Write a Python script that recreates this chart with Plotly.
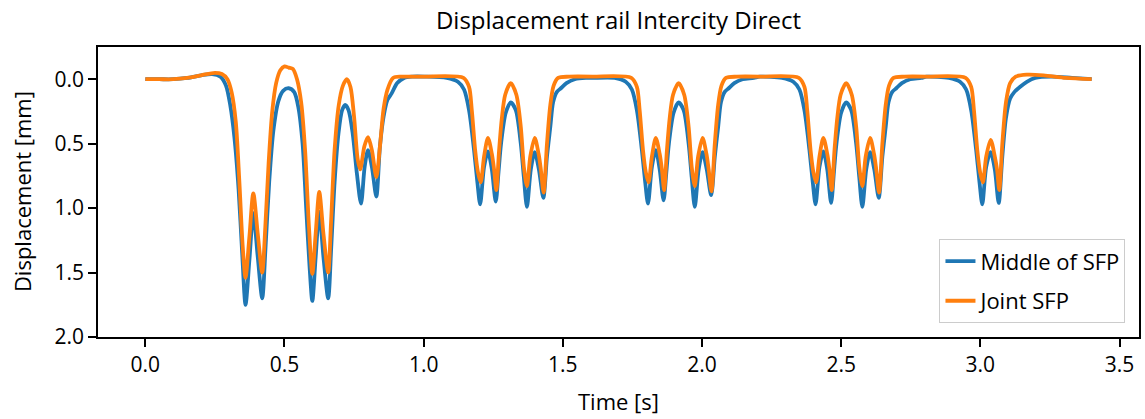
import plotly.graph_objects as go

# Rail displacement under a passing Intercity Direct train (positive = downward)

# --- Middle of SFP -------------------------------------------------------
middle_time = [
    0.00, 0.05, 0.10, 0.15, 0.20, 0.24, 0.27, 0.29, 0.305, 0.32, 0.335, 0.348,
    0.360, 0.374, 0.388, 0.404, 0.420, 0.432, 0.445, 0.460, 0.478, 0.495, 0.515,
    0.535, 0.550, 0.565, 0.578, 0.590, 0.600, 0.612, 0.625, 0.640, 0.657, 0.668,
    0.680, 0.694, 0.707, 0.718, 0.730, 0.745, 0.760, 0.775, 0.788, 0.800, 0.814,
    0.830, 0.843, 0.856, 0.870, 0.885, 0.905, 0.930, 0.960,
    1.003, 1.083, 1.123, 1.145, 1.163, 1.181, 1.193, 1.203, 1.217, 1.231, 1.245,
    1.259, 1.269, 1.278, 1.295, 1.313, 1.331, 1.349, 1.360, 1.371, 1.385, 1.399,
    1.414, 1.430, 1.443, 1.455, 1.465, 1.478, 1.493, 1.513, 1.543, 1.583,
    1.606, 1.686, 1.726, 1.748, 1.766, 1.784, 1.796, 1.806, 1.820, 1.834, 1.848,
    1.862, 1.872, 1.881, 1.898, 1.916, 1.934, 1.952, 1.963, 1.974, 1.988, 2.002,
    2.017, 2.033, 2.046, 2.058, 2.068, 2.081, 2.096, 2.116, 2.146, 2.186,
    2.208, 2.288, 2.328, 2.350, 2.368, 2.386, 2.398, 2.408, 2.422, 2.436, 2.450,
    2.464, 2.474, 2.483, 2.500, 2.518, 2.536, 2.554, 2.565, 2.576, 2.590, 2.604,
    2.619, 2.635, 2.648, 2.660, 2.670, 2.683, 2.698, 2.718, 2.748, 2.788,
    2.807, 2.887, 2.927, 2.949, 2.967, 2.985, 2.997, 3.007, 3.021, 3.037, 3.052,
    3.066, 3.079, 3.092, 3.107, 3.122, 3.142, 3.167, 3.197, 3.257, 3.330, 3.400,
]
middle_mm = [
    0.00, 0.00, 0.00, -0.01, -0.03, -0.04, -0.02, 0.05, 0.20, 0.45, 0.85, 1.35,
    1.75, 1.40, 1.04, 1.38, 1.70, 1.30, 0.80, 0.40, 0.17, 0.09, 0.07,
    0.10, 0.22, 0.50, 1.00, 1.45, 1.72, 1.38, 1.03, 1.38, 1.70, 1.30,
    0.80, 0.42, 0.24, 0.20, 0.24, 0.42, 0.73, 0.965, 0.68, 0.55, 0.68,
    0.91, 0.52, 0.29, 0.16, 0.11, 0.03, -0.01, -0.02,
    -0.02, -0.01, 0.02, 0.08, 0.24, 0.55, 0.80, 0.97, 0.68, 0.56, 0.70,
    0.95, 0.72, 0.50, 0.26, 0.18, 0.24, 0.50, 0.76, 0.99, 0.70, 0.565,
    0.70, 0.92, 0.60, 0.37, 0.18, 0.10, 0.07, 0.03, 0.00, -0.01,
    -0.01, -0.01, 0.02, 0.08, 0.24, 0.55, 0.80, 0.965, 0.68, 0.55, 0.70,
    0.94, 0.72, 0.50, 0.26, 0.18, 0.24, 0.50, 0.76, 0.99, 0.70, 0.565,
    0.70, 0.90, 0.60, 0.37, 0.18, 0.10, 0.07, 0.03, 0.00, -0.01,
    -0.02, -0.01, 0.02, 0.08, 0.24, 0.55, 0.80, 0.97, 0.68, 0.56, 0.70,
    0.96, 0.72, 0.50, 0.26, 0.18, 0.24, 0.50, 0.76, 0.99, 0.70, 0.565,
    0.70, 0.92, 0.60, 0.37, 0.18, 0.10, 0.07, 0.03, 0.00, -0.01,
    -0.02, -0.01, 0.02, 0.08, 0.24, 0.55, 0.80, 0.97, 0.68, 0.565, 0.70,
    0.96, 0.60, 0.30, 0.15, 0.10, 0.06, 0.02, -0.01, -0.02, -0.01, 0.00,
]

# --- Joint SFP -----------------------------------------------------------
joint_time = [
    0.00, 0.05, 0.10, 0.15, 0.20, 0.25, 0.275, 0.295, 0.31, 0.325, 0.338, 0.350,
    0.360, 0.374, 0.388, 0.404, 0.420, 0.431, 0.443, 0.456, 0.470, 0.485, 0.500,
    0.515, 0.530, 0.545, 0.560, 0.574, 0.588, 0.600, 0.612, 0.625, 0.640, 0.657,
    0.667, 0.680, 0.695, 0.710, 0.724, 0.737, 0.750, 0.763, 0.772, 0.787, 0.800,
    0.814, 0.830, 0.843, 0.856, 0.870, 0.890, 0.920, 0.960,
    1.003, 1.143, 1.163, 1.173, 1.185, 1.195, 1.205, 1.217, 1.231, 1.245, 1.253,
    1.261, 1.271, 1.281, 1.293, 1.313, 1.333, 1.349, 1.360, 1.371, 1.383, 1.399,
    1.413, 1.421, 1.431, 1.443, 1.455, 1.467, 1.483, 1.523,
    1.606, 1.746, 1.766, 1.776, 1.788, 1.798, 1.808, 1.820, 1.834, 1.848, 1.856,
    1.864, 1.874, 1.884, 1.896, 1.916, 1.936, 1.952, 1.963, 1.974, 1.986, 2.002,
    2.016, 2.024, 2.034, 2.046, 2.058, 2.070, 2.086, 2.126,
    2.208, 2.348, 2.368, 2.378, 2.390, 2.400, 2.410, 2.422, 2.436, 2.450, 2.458,
    2.466, 2.476, 2.486, 2.498, 2.518, 2.538, 2.554, 2.565, 2.576, 2.588, 2.604,
    2.618, 2.626, 2.636, 2.648, 2.660, 2.672, 2.688, 2.728,
    2.807, 2.947, 2.967, 2.977, 2.989, 2.999, 3.009, 3.021, 3.037, 3.052, 3.060,
    3.068, 3.079, 3.092, 3.107, 3.127, 3.167, 3.227, 3.307, 3.400,
]
joint_mm = [
    0.00, 0.00, 0.00, -0.01, -0.03, -0.05, -0.04, 0.00, 0.10, 0.33, 0.80, 1.30,
    1.54, 1.22, 0.885, 1.20, 1.50, 1.15, 0.65, 0.25, 0.03, -0.07, -0.10,
    -0.09, -0.08, 0.00, 0.18, 0.55, 1.15, 1.51, 1.20, 0.875, 1.20, 1.50,
    1.12, 0.55, 0.20, 0.05, 0.00, 0.06, 0.29, 0.62, 0.70, 0.52, 0.45,
    0.55, 0.76, 0.52, 0.23, 0.08, -0.01, -0.02, -0.02,
    -0.02, -0.01, 0.06, 0.24, 0.55, 0.72, 0.80, 0.60, 0.455, 0.58, 0.70,
    0.86, 0.55, 0.30, 0.12, 0.03, 0.12, 0.37, 0.68, 0.83, 0.60, 0.455,
    0.58, 0.70, 0.88, 0.50, 0.20, 0.05, -0.01, -0.02,
    -0.02, -0.01, 0.06, 0.24, 0.55, 0.72, 0.80, 0.60, 0.455, 0.58, 0.70,
    0.86, 0.55, 0.30, 0.12, 0.03, 0.12, 0.37, 0.68, 0.83, 0.60, 0.455,
    0.58, 0.70, 0.87, 0.50, 0.20, 0.05, -0.01, -0.02,
    -0.02, -0.01, 0.06, 0.24, 0.55, 0.72, 0.80, 0.60, 0.455, 0.58, 0.70,
    0.86, 0.55, 0.30, 0.12, 0.03, 0.12, 0.37, 0.68, 0.83, 0.60, 0.455,
    0.58, 0.70, 0.88, 0.50, 0.20, 0.05, -0.01, -0.02,
    -0.02, -0.01, 0.06, 0.24, 0.55, 0.72, 0.80, 0.60, 0.47, 0.60, 0.70,
    0.86, 0.50, 0.18, 0.03, -0.02, -0.035, -0.03, -0.01, 0.00,
]

x_ticks = [0.0, 0.5, 1.0, 1.5, 2.0, 2.5, 3.0, 3.5]
y_ticks = [0.0, 0.5, 1.0, 1.5, 2.0]

FONT = "Open Sans"
BLUE = "#1f77b4"
ORANGE = "#ff7f0e"

fig = go.Figure()
fig.add_trace(go.Scatter(
    x=middle_time, y=middle_mm, mode="lines", name="Middle of SFP",
    legendgroup="a",
    line=dict(color=BLUE, width=3.8, shape="spline", smoothing=0.8),
))
fig.add_trace(go.Scatter(
    x=joint_time, y=joint_mm, mode="lines", name="Joint SFP",
    legendgroup="b",
    line=dict(color=ORANGE, width=3.8, shape="spline", smoothing=0.8),
))

axis_common = dict(
    showline=True, linecolor="black", linewidth=1.5, mirror=True,
    ticks="outside", ticklen=8, tickwidth=1.5, tickcolor="black",
    showgrid=False, zeroline=False,
    tickfont=dict(family=FONT, size=21, color="black"),
)

fig.update_xaxes(range=[-0.17, 3.57], tickvals=x_ticks,
                 ticktext=[f"{v:.1f}" for v in x_ticks], **axis_common)
fig.update_yaxes(range=[2.0, -0.25], tickvals=y_ticks,
                 ticktext=[f"{v:.1f}" for v in y_ticks], **axis_common)

fig.update_layout(
    width=1145, height=419,
    margin=dict(l=98, r=4, t=47, b=82),
    paper_bgcolor="white", plot_bgcolor="white",
    font=dict(family=FONT, size=21, color="black"),
    title=dict(text="Displacement rail Intercity Direct",
               x=0.5, xref="paper", y=1 - 21 / 419, yref="container",
               xanchor="center", yanchor="middle",
               font=dict(family=FONT, size=24, color="black")),
    showlegend=True,
    legend=dict(x=0.987, y=0.047, xanchor="right", yanchor="bottom",
                bgcolor="white", bordercolor="#cccccc", borderwidth=1,
                tracegroupgap=8, font=dict(family=FONT, size=22, color="black")),
    annotations=[
        dict(text="Time [s]", xref="paper", yref="paper", x=0.5, y=-0.219,
             xanchor="center", yanchor="middle", showarrow=False,
             font=dict(family=FONT, size=22, color="black")),
        dict(text="Displacement [mm]", xref="paper", yref="paper",
             x=-0.0729, y=0.5, xanchor="center", yanchor="middle",
             textangle=-90, showarrow=False,
             font=dict(family=FONT, size=22, color="black")),
    ],
)

fig.write_html("out.html")
